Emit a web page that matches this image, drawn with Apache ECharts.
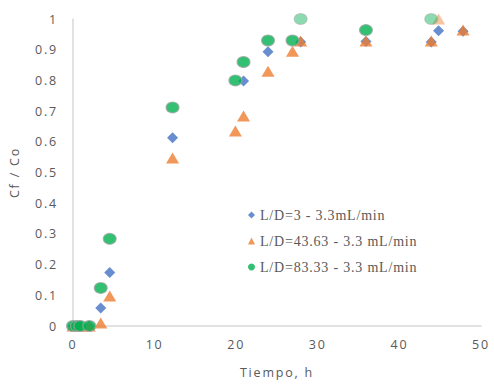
<!DOCTYPE html>
<html>
<head>
<meta charset="utf-8">
<script src="https://cdn.jsdelivr.net/npm/echarts@6/dist/echarts.min.js"></script>
<style>
  html, body { margin: 0; padding: 0; background: #fff; }
  #main { width: 494px; height: 390px; }
  /* el texto de Excel sale con letras separadas */
  #main text { letter-spacing: 1.8px; }
  #main text[style*="Serif"] { letter-spacing: 0.8px; }
</style>
</head>
<body>
<div id="main"></div>
<script>
// datos
const tiempoA = [0, 0.5, 1, 2, 3.4, 4.5, 12.2, 20.9, 23.9, 27.9, 35.9, 43.9, 44.8, 47.8];
const cfA = [0, 0, 0, 0, 0.059, 0.174, 0.613, 0.798, 0.893, 0.925, 0.927, 0.925, 0.962, 0.96];

const tiempoB = [0, 0.5, 1, 2, 3.4, 4.5, 12.2, 19.9, 20.9, 23.9, 26.9, 27.9, 35.9, 43.9, 44.8, 47.8];
const cfB = [0, 0, 0, 0, 0.01, 0.098, 0.547, 0.635, 0.684, 0.83, 0.895, 0.928, 0.928, 0.928, 1.0, 0.964];

const tiempoC = [0, 0.5, 0.9, 2, 3.4, 4.5, 12.2, 19.9, 20.9, 23.9, 26.9, 27.9, 35.9, 43.9];
const cfC = [0, 0, 0, 0, 0.124, 0.284, 0.712, 0.8, 0.86, 0.93, 0.93, 1.0, 0.964, 1.0];

const nombres = ['L/D=3 - 3.3mL/min', 'L/D=43.63 - 3.3 mL/min', 'L/D=83.33 - 3.3 mL/min'];

function pares(xs, ys) {
  return xs.map((x, i) => {
    const p = { value: [x, ys[i]] };
    if (ys[i] >= 1) p.itemStyle = { opacity: 0.45 }; // puntos en el borde se ven palidos
    return p;
  });
}

const myChart = echarts.init(document.getElementById('main'), null, { renderer: 'svg' });
const fuenteEje = { fontFamily: 'Open Sans', fontSize: 12.5, color: '#595959' };
const option = {
  animation: false,
  grid: { left: 73, right: 13, top: 19, bottom: 64 },
  legend: {
    orient: 'vertical',
    left: 243,
    top: 203,
    itemWidth: 7,
    itemHeight: 7,
    itemGap: 12,
    itemStyle: { borderWidth: 0 },
    textStyle: { fontFamily: 'Liberation Serif', fontSize: 14, color: '#595959' },
    data: nombres
  },
  xAxis: {
    type: 'value',
    min: 0, max: 50, interval: 10,
    name: 'Tiempo, h',
    nameLocation: 'middle',
    nameGap: 40,
    nameTextStyle: fuenteEje,
    axisLine: { lineStyle: { color: '#D9D9D9', width: 1.5 } },
    axisTick: { show: false },
    splitLine: { show: false },
    axisLabel: Object.assign({ margin: 12 }, fuenteEje)
  },
  yAxis: {
    type: 'value',
    min: 0, max: 1, interval: 0.1,
    name: 'Cf / Co',
    nameLocation: 'middle',
    nameGap: 52,
    nameTextStyle: fuenteEje,
    axisLine: { show: true, lineStyle: { color: '#D9D9D9', width: 1.5 } },
    axisTick: { show: false },
    splitLine: { show: false },
    axisLabel: Object.assign({ margin: 15 }, fuenteEje)
  },
  series: [
    {
      name: nombres[0],
      type: 'scatter',
      symbol: 'diamond',
      symbolSize: [11, 11],
      itemStyle: { color: '#4472C4' },
      data: pares(tiempoA, cfA)
    },
    {
      name: nombres[1],
      type: 'scatter',
      symbol: 'triangle',
      symbolSize: [13, 11],
      itemStyle: { color: '#ED7D31' },
      data: pares(tiempoB, cfB)
    },
    {
      name: nombres[2],
      type: 'scatter',
      symbol: 'circle',
      symbolSize: [13, 11],
      itemStyle: { color: '#00B050', borderColor: '#A6A6A6', borderWidth: 1 },
      data: pares(tiempoC, cfC)
    }
  ]
};
myChart.setOption(option);
window.onresize = function () {
  myChart.resize();
};
</script>
</body>
</html>
